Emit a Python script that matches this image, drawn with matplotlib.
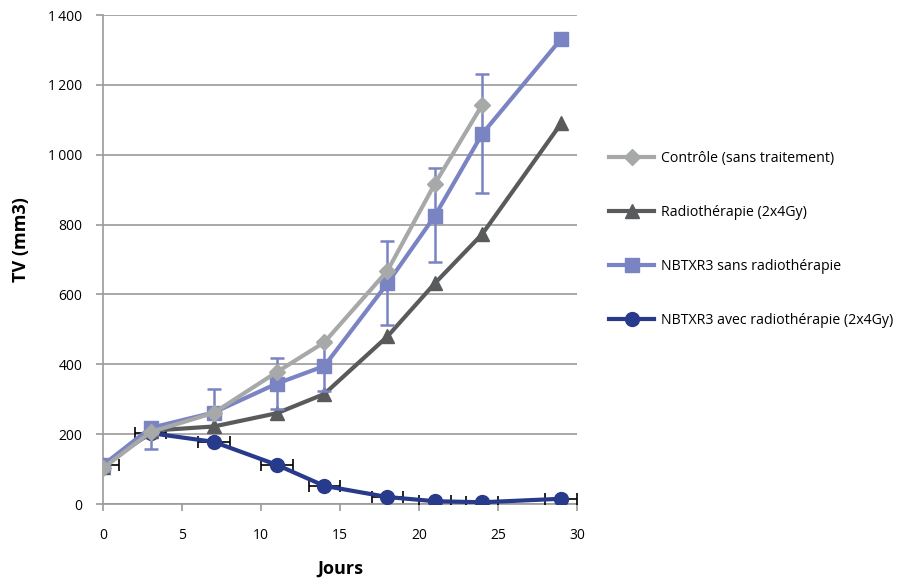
import matplotlib
matplotlib.use('Agg')
import matplotlib.pyplot as plt
from matplotlib.lines import Line2D
import numpy as np

plt.rcParams['font.family'] = ['Open Sans', 'DejaVu Sans']

# data
jours = [0, 3, 7, 11, 14, 18, 21, 24, 29]
controle = [103, 206, 261, 378, 463, 668, 917, 1143]
radio = [105, 210, 222, 260, 315, 480, 632, 773, 1090]
nbtxr3_sans = [112, 218, 262, 345, 395, 632, 825, 1060, 1332]
err_bas = [0, 60, 15, 72, 70, 120, 133, 170, 0]
err_haut = [0, 10, 68, 72, 72, 120, 138, 170, 0]
nbtxr3_avec = [112, 203, 178, 112, 52, 20, 8, 5, 15]
jours_err = [1, 1, 1, 1, 1, 1, 1, 1, 1]

labels = ['Contrôle (sans traitement)', 'Radiothérapie (2x4Gy)',
          'NBTXR3 sans radiothérapie', 'NBTXR3 avec radiothérapie (2x4Gy)']
colors = ['#A7A9A9', '#585A5B', '#7B84C3', '#283A8C']
markers = ['D', '^', 's', 'o']

fig = plt.figure(figsize=(9.13, 5.8), dpi=100)
ax = fig.add_axes([0.113, 0.131, 0.519, 0.843])

# NBTXR3 avec radiotherapie, horizontal error bars
ax.errorbar(jours, nbtxr3_avec, xerr=jours_err, color=colors[3], lw=3,
            marker='o', ms=10, ecolor='black', elinewidth=1.2,
            capsize=4, capthick=1.2, zorder=3)
ax.plot(jours, radio, color=colors[1], lw=3, marker='^', ms=10, zorder=4)
ax.errorbar(jours, nbtxr3_sans, yerr=[err_bas, err_haut], color=colors[2], lw=3,
            marker='s', ms=10, ecolor=colors[2], elinewidth=1.8,
            capsize=5, capthick=1.8, zorder=5)
ax.plot(jours[:len(controle)], controle, color=colors[0], lw=3,
        marker='D', ms=8, zorder=6)

ax.set_xlim(0, 30)
ax.set_ylim(0, 1400)
ax.set_xticks(np.arange(0, 31, 5))
ax.set_yticks(np.arange(0, 1401, 200))
ax.set_yticklabels(['0', '200', '400', '600', '800', '1\u2009000', '1\u2009200', '1\u2009400'])
ax.yaxis.grid(True, color='#9A9A9A', lw=1.2)
ax.set_axisbelow(True)
for s in ['top', 'right']:
    ax.spines[s].set_visible(False)
for s in ['left', 'bottom']:
    ax.spines[s].set_color('#9A9A9A')
    ax.spines[s].set_linewidth(1.2)
ax.tick_params(colors='#9A9A9A', labelcolor='black', labelsize=10, length=5, width=1.2)
ax.tick_params(axis='y', pad=10)
ax.tick_params(axis='x', pad=12)

ax.set_ylabel('TV (mm3)', fontsize=13, fontweight='bold')
ax.yaxis.set_label_coords(-0.155, 0.54)
ax.set_xlabel('Jours', fontsize=13, fontweight='bold', labelpad=12)

handles = [Line2D([], [], color=c, lw=3, marker=m, ms=10 if m != 'D' else 8)
           for c, m in zip(colors, markers)]
fig.legend(handles, labels, loc='upper left', bbox_to_anchor=(0.653, 0.762),
           frameon=False, fontsize=10.2, labelspacing=2.75, handlelength=3.2,
           handletextpad=0.5)

fig.savefig('out.png', dpi=100)
